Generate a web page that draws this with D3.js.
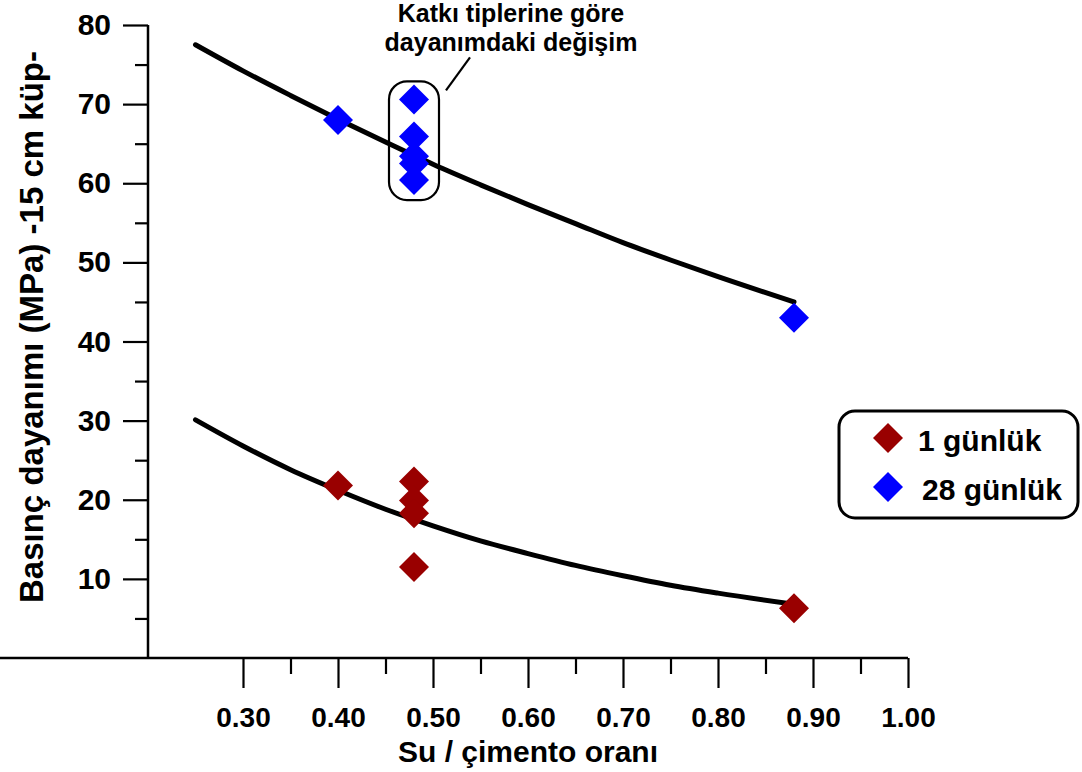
<!DOCTYPE html>
<html>
<head>
<meta charset="utf-8">
<script src="https://cdn.jsdelivr.net/npm/d3@7"></script>
<style>
  html, body { margin: 0; padding: 0; background: #fff; }
  svg { display: block; }
  .lbl { font-family: "Liberation Sans", Arial, sans-serif; font-weight: bold; }
</style>
</head>
<body>
<svg id="chart" width="1082" height="772"></svg>
<script>
// Water / cement ratio vs. compressive strength (15 cm cube)
const wcRatio1 = [0.40, 0.48, 0.48, 0.48, 0.48, 0.88];
const strength1 = [21.8, 22.3, 19.9, 18.3, 11.5, 6.3];
const wcRatio28 = [0.40, 0.48, 0.48, 0.48, 0.48, 0.48, 0.88];
const strength28 = [68.0, 70.6, 65.9, 63.4, 62.5, 60.4, 43.0];

// Trend curves
const trendX = [0.25, 0.30, 0.35, 0.40, 0.45, 0.50, 0.55, 0.60, 0.65, 0.70, 0.75, 0.80, 0.88];
const trend1 = [30.1, 26.8, 23.8, 21.2, 18.8, 16.7, 14.8, 13.2, 11.7, 10.4, 9.2, 8.2, 6.8];
const trend28 = [77.5, 74.2, 71.1, 68.1, 65.2, 62.4, 59.8, 57.3, 54.9, 52.5, 50.3, 48.2, 45.0];

const xMajor = [0.30, 0.40, 0.50, 0.60, 0.70, 0.80, 0.90, 1.00];
const xMinor = [0.35, 0.45, 0.55, 0.65, 0.75, 0.85, 0.95];
const yMajor = [10, 20, 30, 40, 50, 60, 70, 80];
const yMinor = [5, 15, 25, 35, 45, 55, 65, 75];

const seriesNames = ["1 günlük", "28 günlük"];
const seriesColors = ["#990000", "#0000ff"];

const svg = d3.select("#chart");
const x = d3.scaleLinear().domain([0.2, 1.0]).range([148, 908]);
const y = d3.scaleLinear().domain([0, 80]).range([658, 25]);

// X axis
const xAxisG = svg.append("g").attr("transform", `translate(0,${y(0)})`);
xAxisG.append("line").attr("x1", 0).attr("x2", x(1.0)).attr("y1", 0).attr("y2", 0)
  .attr("stroke", "#000").attr("stroke-width", 2.5);
xAxisG.call(d3.axisBottom(x).tickValues(xMajor).tickSize(30).tickPadding(19).tickFormat(d3.format(".2f")))
  .call(g => g.select(".domain").remove())
  .call(g => g.selectAll(".tick line").attr("stroke-width", 2.2))
  .call(g => g.selectAll(".tick text").attr("class", "lbl").attr("font-size", 28).attr("fill", "#000"));
xAxisG.append("g").call(d3.axisBottom(x).tickValues(xMinor).tickSize(16).tickFormat(""))
  .call(g => g.select(".domain").remove())
  .call(g => g.selectAll(".tick line").attr("stroke-width", 2.2));

// Y axis
const yAxisG = svg.append("g").attr("transform", `translate(${x(0.2)},0)`);
yAxisG.append("line").attr("x1", 0).attr("x2", 0).attr("y1", y(80)).attr("y2", y(0))
  .attr("stroke", "#000").attr("stroke-width", 2.5);
yAxisG.call(d3.axisLeft(y).tickValues(yMajor).tickSize(25).tickPadding(12))
  .call(g => g.select(".domain").remove())
  .call(g => g.selectAll(".tick line").attr("stroke-width", 2.2))
  .call(g => g.selectAll(".tick text").attr("class", "lbl").attr("font-size", 30).attr("fill", "#000"));
yAxisG.append("g").call(d3.axisLeft(y).tickValues(yMinor).tickSize(13).tickFormat(""))
  .call(g => g.select(".domain").remove())
  .call(g => g.selectAll(".tick line").attr("stroke-width", 2.2));

// Axis titles
svg.append("text").attr("class", "lbl").attr("font-size", 30)
  .attr("x", 528).attr("y", 762).attr("text-anchor", "middle").text("Su / çimento oranı");
svg.append("text").attr("class", "lbl").attr("font-size", 33)
  .attr("transform", "translate(43,327) rotate(-90)").attr("text-anchor", "middle")
  .text("Basınç dayanımı (MPa) -15 cm küp-");

// Trend curves
const line = d3.line().x((d, i) => x(trendX[i])).y(d => y(d)).curve(d3.curveMonotoneX);
[trend1, trend28].forEach(t => {
  svg.append("path").attr("d", line(t)).attr("fill", "none").attr("stroke", "#000")
    .attr("stroke-width", 5).attr("stroke-linecap", "round");
});

// Diamond markers
const diamond = d3.symbol().type(d3.symbolSquare).size(450);
function drawPoints(xs, ys, color) {
  svg.append("g").selectAll("path").data(ys).join("path")
    .attr("d", diamond)
    .attr("transform", (d, i) => `translate(${x(xs[i])},${y(d)}) rotate(45)`)
    .attr("fill", color);
}
drawPoints(wcRatio28, strength28, seriesColors[1]);
drawPoints(wcRatio1, strength1, seriesColors[0]);

// Annotation around the 0.48 group of 28-day results
const grp = strength28.filter((d, i) => wcRatio28[i] === 0.48);
const bx = x(0.48) - 25, bw = 50;
const by = y(d3.max(grp)) - 18, bh = y(d3.min(grp)) - y(d3.max(grp)) + 38;
svg.append("rect").attr("x", bx).attr("y", by).attr("width", bw).attr("height", bh)
  .attr("rx", 18).attr("ry", 18).attr("fill", "none").attr("stroke", "#000").attr("stroke-width", 2.2);
svg.append("line").attr("x1", bx + bw + 7).attr("y1", by + 9).attr("x2", bx + bw + 31).attr("y2", by - 24)
  .attr("stroke", "#000").attr("stroke-width", 2.2);
const note = svg.append("text").attr("class", "lbl").attr("font-size", 25).attr("text-anchor", "middle");
note.append("tspan").attr("x", 511).attr("y", 22).text("Katkı tiplerine göre");
note.append("tspan").attr("x", 511).attr("y", 51).text("dayanımdaki değişim");

// Legend
const lg = svg.append("g");
lg.append("rect").attr("x", 839).attr("y", 411).attr("width", 239).attr("height", 107)
  .attr("rx", 16).attr("ry", 16).attr("fill", "#fff").attr("stroke", "#000").attr("stroke-width", 3);
seriesNames.forEach((name, i) => {
  const cy = 438 + i * 49;
  lg.append("path").attr("d", diamond).attr("transform", `translate(888,${cy}) rotate(45)`)
    .attr("fill", seriesColors[i]);
  lg.append("text").attr("class", "lbl").attr("font-size", 30)
    .attr("x", i === 0 ? 918 : 922).attr("y", cy + 13).text(name);
});
</script>
</body>
</html>
